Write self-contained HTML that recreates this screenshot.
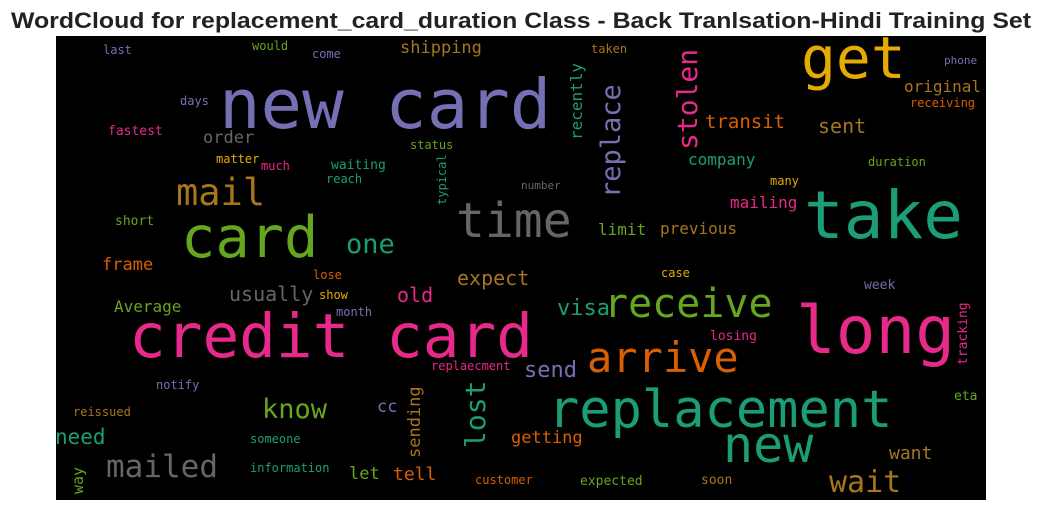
<!DOCTYPE html>
<html><head><meta charset="utf-8"><style>
html,body{margin:0;padding:0;background:#fff;width:1042px;height:511px;overflow:hidden}
svg{display:block}
</style></head><body>
<svg id="chart" width="1042" height="511" xmlns="http://www.w3.org/2000/svg">
<text x="521" y="28" text-anchor="middle" font-family="Liberation Sans, sans-serif" font-weight="bold" font-size="22" fill="#222" textLength="1020" lengthAdjust="spacingAndGlyphs">WordCloud for replacement_card_duration Class - Back Tranlsation-Hindi Training Set</text>
<rect x="56" y="36" width="930" height="464" fill="#000"/>
<g id="words"></g>
</svg>
<script>
const words = ["new card","get","take","long","credit card","replacement","new","card","time","mail","one","receive","arrive","visa","send","wait","want","eta","tracking","week","losing","case","expected","soon","getting","customer","lost","sending","cc","tell","let","know","mailed","need","way","someone","information","reissued","notify","replaecment","month","Average","usually","lose","show","old","expect","frame","short","fastest","days","last","would","come","shipping","order","matter","much","waiting","reach","status","typical","number","recently","replace","stolen","transit","sent","company","original","receiving","phone","taken","duration","many","mailing","limit","previous"];
const wx = [219,801,804,796,129,548,723,181,456,176,346,604,587,557,524,829,889,954,967,864,710,661,580,701,511,475,485,420,377,393,349,262,106,55,83,250,250,73,156,431,336,114,229,313,319,397,457,102,115,108,180,103,252,312,400,203,216,261,331,326,410,446,521,582,620,697,705,818,688,904,910,944,591,868,770,730,598,660];
const wy = [128,78,238,353,357,427,462,257,237,205,253,317,372,315,377,492,459,400,365,289,340,277,485,484,443,484,448,458,412,480,479,418,477,444,494,443,472,416,389,370,316,312,301,279,299,302,285,270,225,135,105,54,50,58,53,143,163,170,169,183,149,205,189,140,198,150,128,133,165,92,107,64,53,166,185,208,235,234];
const wsize = [69,58,66,66,61,52,50,57,48,37,27,40,42,22,22,30,18,13,13,13,13,12,13,13,17,12,28,17,17,18,17,27,31,21,15,12,12,12,12,12,12,16,20,12,12,20,20,17,13,13,12,12,12,12,17,17,12,12,13,12,12,12,11,16,27,28,19,20,16,16,12,11,12,12,12,16,16,16];
const wcolor = ["#7570b3","#e6ab02","#1b9e77","#e7298a","#e7298a","#1b9e77","#1b9e77","#66a61e","#666666","#a6761d","#1b9e77","#66a61e","#d95f02","#1b9e77","#7570b3","#a6761d","#a6761d","#66a61e","#e7298a","#7570b3","#e7298a","#e6ab02","#66a61e","#a6761d","#d95f02","#d95f02","#1b9e77","#a6761d","#7570b3","#d95f02","#66a61e","#66a61e","#666666","#1b9e77","#66a61e","#1b9e77","#1b9e77","#a6761d","#7570b3","#e7298a","#7570b3","#66a61e","#666666","#d95f02","#e6ab02","#e7298a","#a6761d","#d95f02","#66a61e","#e7298a","#7570b3","#7570b3","#66a61e","#7570b3","#a6761d","#666666","#e6ab02","#e7298a","#1b9e77","#1b9e77","#66a61e","#1b9e77","#666666","#1b9e77","#7570b3","#e7298a","#d95f02","#a6761d","#1b9e77","#a6761d","#d95f02","#7570b3","#a6761d","#66a61e","#e6ab02","#e7298a","#66a61e","#a6761d"];
const wrot = words.map(w => ["tracking","lost","sending","way","typical","recently","replace","stolen"].includes(w));
const g = document.getElementById('words');
const NS = "http://www.w3.org/2000/svg";
for (let i = 0; i < words.length; i++) {
  const t = document.createElementNS(NS, 'text');
  
  
  t.setAttribute('x', wx[i]);
  t.setAttribute('y', wy[i]);
  t.setAttribute('font-family', 'DejaVu Sans Mono, Liberation Mono, monospace');
  t.setAttribute('font-size', wsize[i]);
  t.setAttribute('fill', wcolor[i]);
  if (wrot[i]) t.setAttribute('transform', 'rotate(-90 ' + wx[i] + ' ' + wy[i] + ')');
  t.textContent = words[i];
  g.appendChild(t);
}
</script>
</body></html>
